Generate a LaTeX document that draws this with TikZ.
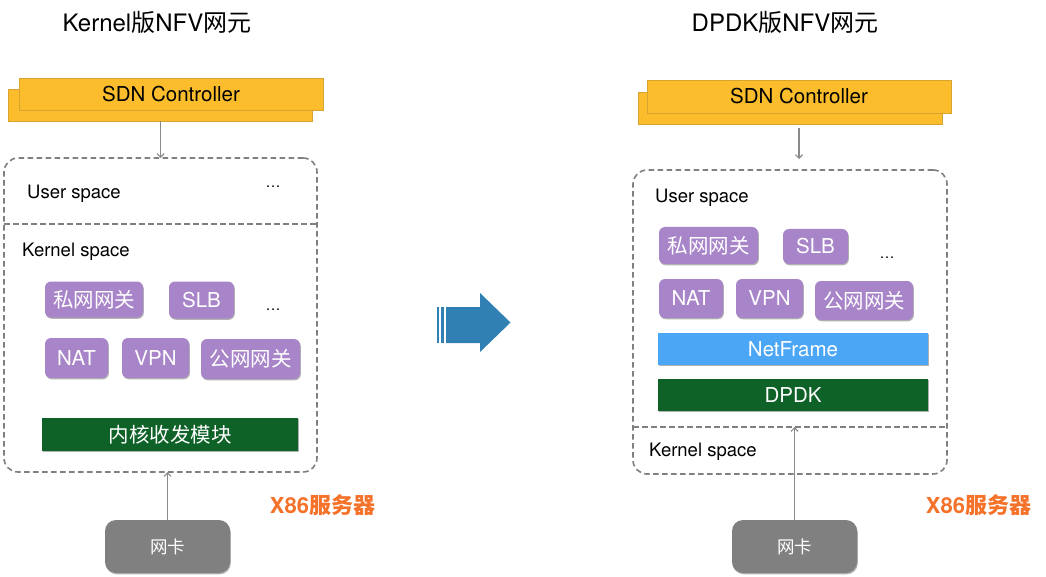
\documentclass[tikz,border=0pt]{standalone}
\usepackage{fontspec}
\setmainfont{TeX Gyre Heros}
\newfontfamily\cjk{Noto Sans CJK SC}
\usetikzlibrary{arrows.meta,shadows,calc}
\definecolor{sdnyellow}{HTML}{FBBD2C}
\definecolor{sdnedge}{HTML}{D9A330}
\definecolor{nfpurple}{HTML}{A884C8}
\definecolor{kgreen}{HTML}{0E6127}
\definecolor{nfblue}{HTML}{4BA6F6}
\definecolor{nicgray}{HTML}{808080}
\definecolor{xorange}{HTML}{F5722A}
\definecolor{bigarrow}{HTML}{3180B4}
\definecolor{dashgray}{HTML}{808080}
\definecolor{conngray}{HTML}{8A8A8A}
\tikzset{
  sh/.style={drop shadow={shadow xshift=0.8pt,shadow yshift=-1.3pt,opacity=0.3,fill=black}},
  sdnbox/.style={draw=sdnedge,line width=0.6pt,fill=sdnyellow,sh,inner sep=0,outer sep=0,
    minimum width=304,minimum height=32,font=\fontsize{20.5}{24}\selectfont},
  nfbox/.style={fill=nfpurple,rounded corners=6pt,sh,inner sep=0,outer sep=0,text=white,
    font=\fontsize{20.5}{24}\selectfont},
  barbox/.style={inner sep=0,outer sep=0,text=white,sh,font=\fontsize{20.5}{24}\selectfont},
  nicbox/.style={fill=nicgray,rounded corners=11pt,sh,inner sep=0,outer sep=0,text=white,
    minimum width=125,minimum height=53,font=\cjk\fontsize{17.5}{20}\selectfont},
  hostbox/.style={draw=dashgray,line width=1.6pt,dash pattern=on 5.5pt off 3.5pt,rounded corners=14pt,
    inner sep=0,outer sep=0},
  divline/.style={draw=dashgray,line width=1.6pt,dash pattern=on 5.5pt off 3.5pt},
  conn/.style={draw=conngray,line width=1.2pt,-{Straight Barb[length=3.5pt,width=7pt]}},
  spacelbl/.style={anchor=base west,inner sep=0,font=\fontsize{18.5}{22}\selectfont},
  dotslbl/.style={inner sep=0,font=\fontsize{15}{18}\selectfont},
  titlelbl/.style={inner sep=0,font=\fontsize{24}{28}\selectfont},
  x86lbl/.style={inner sep=0,text=xorange,font=\bfseries\fontsize{22}{26}\selectfont}
}
\begin{document}
\begin{tikzpicture}[x=1pt,y=-1pt]
\useasboundingbox (0,0) rectangle (1046,577);
\fill[white] (0,0) rectangle (1046,577);

% ---------------- Left: Kernel NFV ----------------
\node[titlelbl] (titleL) at (157,22) {Kernel{\cjk 版}NFV{\cjk 网元}};
\node[sdnbox] (sdnLback) at (160.5,105) {};
\node[sdnbox] (sdnL) at (171,94) {SDN Controller};
\node[hostbox,minimum width=313,minimum height=314] (boxL) at (160.5,315) {};
\coordinate (divL) at (160,224);
\draw[divline] (boxL.west |- divL) -- (boxL.east |- divL);
\node[spacelbl] (userL) at (27,198.5) {User space};
\node[dotslbl] (udotsL) at (273,187) {…};
\node[spacelbl] (kernL) at (22,256.5) {Kernel space};
\node[nfbox,minimum width=98,minimum height=36,font=\cjk\fontsize{20.5}{24}\selectfont] (privL) at (94,299.5) {私网网关};
\node[nfbox,minimum width=65,minimum height=37] (slbL) at (201.5,300) {SLB};
\node[dotslbl] (kdotsL) at (273,310) {…};
\node[nfbox,minimum width=63,minimum height=40] (natL) at (76.5,358) {NAT};
\node[nfbox,minimum width=67,minimum height=40] (vpnL) at (155.5,358) {VPN};
\node[nfbox,minimum width=99,minimum height=40,font=\cjk\fontsize{20.5}{24}\selectfont] (pubL) at (250.5,359) {公网网关};
\node[barbox,fill=kgreen,minimum width=256,minimum height=33,font=\cjk\fontsize{20.5}{24}\selectfont] (kmodL) at (170,434.5) {内核收发模块};
\node[nicbox] (nicL) at (167.5,546.5) {网卡};
\node[x86lbl] (x86L) at (322.5,505) {X86{\cjk\bfseries 服务器}};
\draw[conn] (sdnLback.south) -- (sdnLback.south |- boxL.north);
\draw[conn] (nicL.north) -- (nicL.north |- boxL.south);

% ---------------- Big arrow ----------------
\fill[bigarrow] (437,307) rectangle (439.2,343);
\fill[bigarrow] (441.2,307) rectangle (444,343);
\fill[bigarrow] (446,307) -- (480,307) -- (480,293) -- (510.5,322.5) -- (480,352) -- (480,343) -- (446,343) -- cycle;

% ---------------- Right: DPDK NFV ----------------
\node[titlelbl] (titleR) at (785,22) {DPDK{\cjk 版}NFV{\cjk 网元}};
\node[sdnbox] (sdnRback) at (790,108) {};
\node[sdnbox,minimum height=33] (sdnR) at (799,96.5) {SDN Controller};
\node[hostbox,minimum width=314,minimum height=304] (boxR) at (790,322) {};
\coordinate (divR) at (790,427);
\draw[divline] (boxR.west |- divR) -- (boxR.east |- divR);
\node[spacelbl] (userR) at (655,203) {User space};
\node[nfbox,minimum width=99,minimum height=37,font=\cjk\fontsize{20.5}{24}\selectfont] (privR) at (708.5,245.5) {私网网关};
\node[nfbox,minimum width=65,minimum height=35] (slbR) at (815.5,246.5) {SLB};
\node[dotslbl] (udotsR) at (887,258) {…};
\node[nfbox,minimum width=64,minimum height=39] (natR) at (691,298.5) {NAT};
\node[nfbox,minimum width=67,minimum height=39] (vpnR) at (769.5,298.5) {VPN};
\node[nfbox,minimum width=98,minimum height=39,font=\cjk\fontsize{20.5}{24}\selectfont] (pubR) at (864,300.5) {公网网关};
\node[barbox,fill=nfblue,minimum width=270,minimum height=32] (netfR) at (793,349) {NetFrame};
\node[barbox,fill=kgreen,minimum width=270,minimum height=32] (dpdkR) at (793,395) {DPDK};
\node[spacelbl] (kernR) at (649,456) {Kernel space};
\node[nicbox] (nicR) at (794.5,546.5) {网卡};
\node[x86lbl] (x86R) at (978.5,505) {X86{\cjk\bfseries 服务器}};
\draw[conn,shorten <=4pt,shorten >=11pt] (sdnRback.south -| sdnR.south) -- (sdnR.south |- boxR.north);
\draw[conn] (nicR.north) -- (nicR.north |- divR);
\end{tikzpicture}
\end{document}
